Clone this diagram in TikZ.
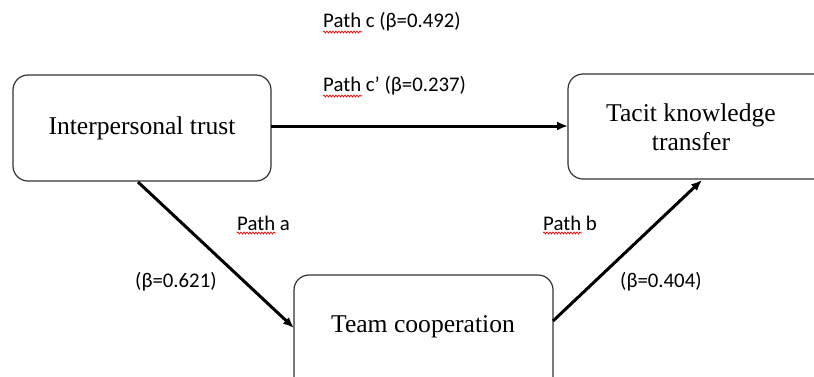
\documentclass[tikz,border=0pt]{standalone}
\usepackage{fontspec}
\setmainfont{Liberation Serif}
\newfontfamily\lblfont{Carlito}
\usetikzlibrary{arrows.meta,decorations.pathmorphing}
\begin{document}
\begin{tikzpicture}[x=1pt,y=-1pt,
  box/.style={draw=black!80,line width=1.2pt,rounded corners=15pt},
  boxtext/.style={font=\fontsize{25.6}{29}\selectfont,align=center,inner sep=0pt},
  lbl/.style={font=\lblfont\fontsize{20.8}{24}\selectfont,inner sep=0pt,anchor=west},
  conn/.style={line width=3pt,-{Latex[length=11pt,width=9pt]}},
  squig/.style={red,line width=0.7pt,decorate,decoration={snake,amplitude=1pt,segment length=3pt}}]
\useasboundingbox (0,0) rectangle (814,376);
\begin{scope}
\clip (0,0) rectangle (814,376);
\draw[box] (13,75) rectangle (271,181);
\draw[box] (568,74) rectangle (830,179);
\draw[box] (294,275) rectangle (553,400);
\end{scope}
\coordinate (A) at (142,128);
\coordinate (C) at (691,127);
\coordinate (B) at (423,327);
\node[boxtext] (tA) at (A) {Interpersonal trust};
\node[boxtext] (tC) at (C) {Tacit knowledge\\transfer};
\node[boxtext] (tB) at (B) {Team cooperation};
\coordinate (Ar) at (271,126);
\coordinate (Cl) at (568,126);
\coordinate (Ab) at (138,182);
\coordinate (Bl) at (294,328);
\coordinate (Br) at (553,321);
\coordinate (Cb) at (702,180);
\draw[conn] (Ar) -- (Cl);
\draw[conn] (Ab) -- (Bl);
\draw[conn] (Br) -- (Cb);
\node[lbl] (pc) at (323,22) {Path c (β=0.492)};
\node[lbl] (pcp) at (323,86) {Path c’ (β=0.237)};
\node[lbl] (pa) at (237,223) {Path a};
\node[lbl] (ba) at (135,282) {(β=0.621)};
\node[lbl] (pb) at (543,223) {Path b};
\node[lbl] (bb) at (620,282) {(β=0.404)};
\draw[squig] (323,32) -- (362,32);
\draw[squig] (323,96) -- (362,96);
\draw[squig] (237,233) -- (276,233);
\draw[squig] (543,233) -- (582,233);
\end{tikzpicture}
\end{document}
